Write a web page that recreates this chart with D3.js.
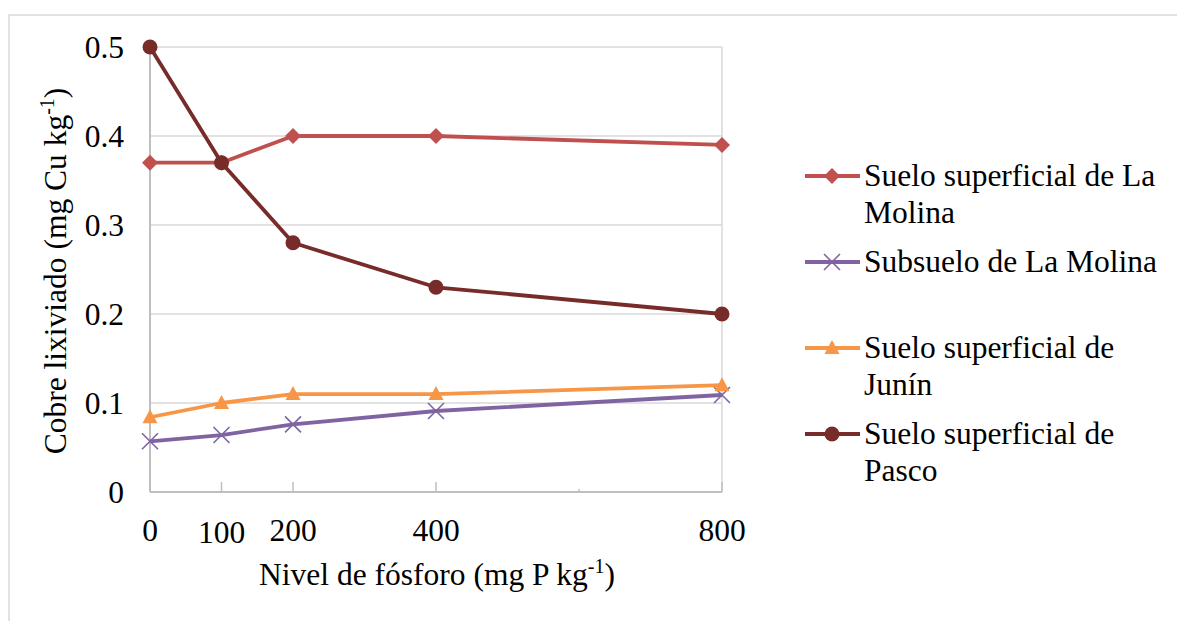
<!DOCTYPE html>
<html><head><meta charset="utf-8">
<script src="https://cdn.jsdelivr.net/npm/d3@7"></script>
<style>body{margin:0;background:#fff}svg{display:block}</style>
</head><body><svg id="c" width="1177" height="621" font-family="'Liberation Serif', 'Times New Roman', serif"></svg>
<script>
const xValues = [0, 100, 200, 400, 800];
const xTickLabels = ["0", "100", "200", "400", "800"];
const yTicks = [0, 0.1, 0.2, 0.3, 0.4, 0.5];
const yTickLabels = ["0", "0.1", "0.2", "0.3", "0.4", "0.5"];
const seriesNames = ["Suelo superficial de La Molina", "Subsuelo de La Molina", "Suelo superficial de Junín", "Suelo superficial de Pasco"];
const molinaSurface = [0.37, 0.37, 0.40, 0.40, 0.39];
const molinaSub = [0.057, 0.064, 0.076, 0.091, 0.109];
const junin = [0.084, 0.10, 0.11, 0.11, 0.12];
const pasco = [0.50, 0.37, 0.28, 0.23, 0.20];
const legendLines = [["Suelo superficial de La", "Molina"], ["Subsuelo de La Molina"], ["Suelo superficial de", "Junín"], ["Suelo superficial de", "Pasco"]];

const colors = ["#c0504d", "#8064a2", "#f79646", "#772c2a"];
const markers = ["diamond", "x", "triangle", "circle"];
const data = [molinaSurface, molinaSub, junin, pasco];
const FS = 31.5;

const svg = d3.select("#c");
svg.append("rect").attr("x", 9).attr("y", 15).attr("width", 1300).attr("height", 800)
  .attr("fill", "none").attr("stroke", "#d9d9d9").attr("stroke-width", 1.5);

const x = d3.scaleLinear().domain([0, 800]).range([150, 722]);
const y = d3.scaleLinear().domain([0, 0.5]).range([492, 47]);

svg.append("g").selectAll("line").data(yTicks.slice(1)).join("line")
  .attr("x1", x(0)).attr("x2", x(800)).attr("y1", d => y(d)).attr("y2", d => y(d))
  .attr("stroke", "#d9d9d9").attr("stroke-width", 1.5);
svg.append("line").attr("x1", x(800)).attr("x2", x(800)).attr("y1", y(0.5)).attr("y2", y(0))
  .attr("stroke", "#d9d9d9").attr("stroke-width", 1.5);

svg.append("line").attr("x1", x(0)).attr("x2", x(0)).attr("y1", y(0.5)).attr("y2", y(0))
  .attr("stroke", "#bfbfbf").attr("stroke-width", 2);
svg.append("line").attr("x1", x(0)).attr("x2", x(800)).attr("y1", y(0)).attr("y2", y(0))
  .attr("stroke", "#bfbfbf").attr("stroke-width", 2);
svg.append("g").selectAll("line").data(xValues.slice(1)).join("line")
  .attr("x1", d => x(d)).attr("x2", d => x(d)).attr("y1", y(0)).attr("y2", y(0) - 10)
  .attr("stroke", "#bfbfbf").attr("stroke-width", 1.5);
svg.append("line").attr("x1", x(600)).attr("x2", x(600)).attr("y1", y(0)).attr("y2", y(0) - 3)
  .attr("stroke", "#bfbfbf").attr("stroke-width", 1.5);

svg.append("g").selectAll("text").data(yTicks).join("text")
  .attr("x", 124).attr("y", d => y(d) + 11).attr("text-anchor", "end")
  .attr("font-size", FS).text((d, i) => yTickLabels[i]);
svg.append("g").selectAll("text").data(xValues).join("text")
  .attr("x", d => x(d)).attr("y", (d, i) => i === 1 ? 543 : 541).attr("text-anchor", "middle")
  .attr("font-size", FS).text((d, i) => xTickLabels[i]);

const xt = svg.append("text").attr("x", 437).attr("y", 585).attr("text-anchor", "middle").attr("font-size", FS);
xt.append("tspan").text("Nivel de fósforo (mg P kg");
xt.append("tspan").attr("font-size", 20).attr("dy", -12).text("-1");
xt.append("tspan").attr("dy", 12).text(")");
const yt = svg.append("text").attr("transform", "translate(66,271) rotate(-90)").attr("text-anchor", "middle").attr("font-size", FS);
yt.append("tspan").text("Cobre lixiviado (mg Cu kg");
yt.append("tspan").attr("font-size", 20).attr("dy", -12).text("-1");
yt.append("tspan").attr("dy", 12).text(")");

function drawMarker(g, type, color, cx, cy) {
  if (type === "diamond") {
    g.append("path").attr("d", "M0,-8L8,0L0,8L-8,0Z").attr("transform", `translate(${cx},${cy})`).attr("fill", color);
  } else if (type === "circle") {
    g.append("circle").attr("cx", cx).attr("cy", cy).attr("r", 7.5).attr("fill", color);
  } else if (type === "triangle") {
    g.append("path").attr("d", "M0,-8L7.5,6L-7.5,6Z").attr("transform", `translate(${cx},${cy})`).attr("fill", color);
  } else {
    g.append("path").attr("d", "M-8,-8L8,8M-8,8L8,-8").attr("transform", `translate(${cx},${cy})`)
      .attr("stroke", color).attr("stroke-width", 1.6).attr("fill", "none");
  }
}

const line = d3.line().x((d, i) => x(xValues[i])).y(d => y(d));
[0, 1, 2, 3].forEach(s => {
  const g = svg.append("g");
  g.append("path").attr("d", line(data[s])).attr("fill", "none").attr("stroke", colors[s]).attr("stroke-width", 3.8).attr("stroke-linejoin", "round");
  data[s].forEach((v, i) => drawMarker(g, markers[s], colors[s], x(xValues[i]), y(v)));
});

const legY = [176, 262, 348, 434];
legendLines.forEach((lines, s) => {
  const g = svg.append("g");
  g.append("line").attr("x1", 805).attr("x2", 860).attr("y1", legY[s]).attr("y2", legY[s]).attr("stroke", colors[s]).attr("stroke-width", 3.8);
  drawMarker(g, markers[s], colors[s], 832, legY[s]);
  const t = g.append("text").attr("x", 864).attr("y", legY[s] + 10).attr("font-size", FS);
  lines.forEach((l, j) => t.append("tspan").attr("x", 864).attr("dy", j === 0 ? 0 : 37).text(l));
});
</script></body></html>
